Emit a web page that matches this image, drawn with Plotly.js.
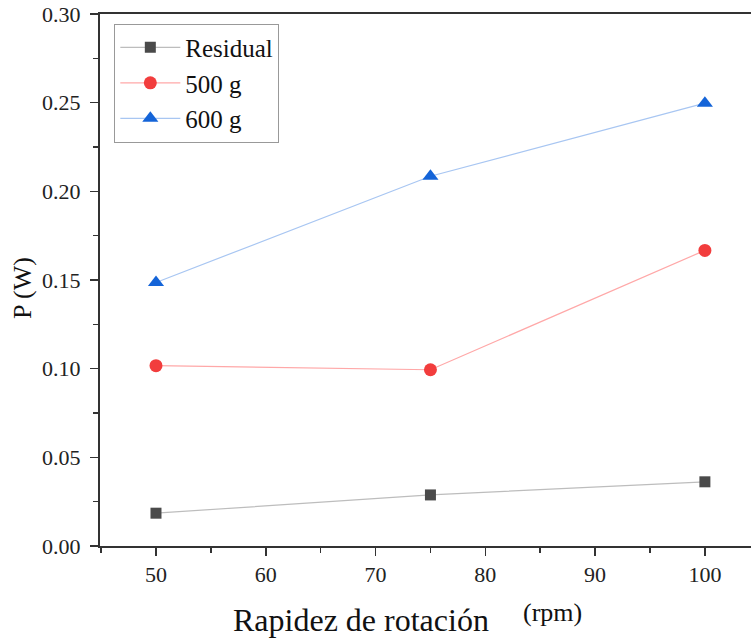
<!DOCTYPE html>
<html>
<head>
<meta charset="utf-8">
<script src="https://cdn.plot.ly/plotly-3.0.1.min.js"></script>
<style>html,body{margin:0;padding:0;background:#fff;}#chart{width:751px;height:638px;}</style>
</head>
<body>
<div id="chart"></div>
<script>
const rpm = [50, 75, 100];
const residual = [0.0185, 0.0288, 0.0362];
const p500 = [0.1017, 0.0994, 0.1667];
const p600 = [0.1486, 0.2085, 0.2497];
const seriesNames = ["Residual", "500 g", "600 g"];
const xTicks = [50, 60, 70, 80, 90, 100];
const yTicks = [0.00, 0.05, 0.10, 0.15, 0.20, 0.25, 0.30];
const yTickLabels = ["0.00", "0.05", "0.10", "0.15", "0.20", "0.25", "0.30"];

const serif = "Liberation Serif, Times New Roman, serif";

const traces = [
  {x: rpm, y: residual, name: seriesNames[0], mode: "lines+markers",
   line: {color: "#bdbdbd", width: 1.2},
   marker: {symbol: "square", size: 11, color: "#4a4a4a"}},
  {x: rpm, y: p500, name: seriesNames[1], mode: "lines+markers",
   line: {color: "#ffa8a8", width: 1.2},
   marker: {symbol: "circle", size: 13, color: "#f23d3d"}},
  {x: rpm, y: p600, name: seriesNames[2], mode: "lines+markers",
   line: {color: "#a8c6f2", width: 1.2},
   marker: {symbol: "triangle-up", size: 14, color: "#1464d8"}}
];

const layout = {
  width: 751, height: 638,
  margin: {l: 100, r: 0, t: 14, b: 92},
  paper_bgcolor: "#fff", plot_bgcolor: "#fff",
  font: {family: serif, color: "#222"},
  showlegend: true,
  legend: {
    x: 0.022, y: 0.982, xanchor: "left", yanchor: "top",
    bgcolor: "#fff", bordercolor: "#999", borderwidth: 1,
    font: {family: serif, size: 25, color: "#111"},
    itemwidth: 60, tracegroupgap: 0
  },
  xaxis: {
    range: [44.9, 104.2],
    tickvals: xTicks, ticktext: xTicks.map(String),
    ticks: "outside", ticklen: 8, tickwidth: 1.5, tickcolor: "#333",
    minor: {dtick: 5, ticks: "outside", ticklen: 5, tickwidth: 1.5, tickcolor: "#333"},
    showline: true, linecolor: "#333", linewidth: 2, mirror: true,
    showgrid: false, zeroline: false,
    tickfont: {family: serif, size: 22, color: "#222"}
  },
  yaxis: {
    range: [0, 0.30],
    tickvals: yTicks, ticktext: yTickLabels,
    ticks: "outside", ticklen: 8, tickwidth: 1.5, tickcolor: "#333",
    ticklabelstandoff: 5,
    minor: {dtick: 0.025, ticks: "outside", ticklen: 5, tickwidth: 1.5, tickcolor: "#333"},
    showline: true, linecolor: "#333", linewidth: 2, mirror: true,
    showgrid: false, zeroline: false,
    tickfont: {family: serif, size: 22, color: "#222"}
  },
  annotations: [
    {text: "Rapidez de rotación", xref: "paper", yref: "paper",
     x: (361 - 100) / 651, y: -(620 - 546) / 532, xanchor: "center", yanchor: "middle",
     showarrow: false, font: {family: serif, size: 32, color: "#111"}},
    {text: "(rpm)", xref: "paper", yref: "paper",
     x: (552 - 100) / 651, y: -(612 - 546) / 532, xanchor: "center", yanchor: "middle",
     showarrow: false, font: {family: serif, size: 26, color: "#111"}},
    {text: "P (W)", xref: "paper", yref: "paper",
     x: -(100 - 22) / 651, y: (546 - 288) / 532, xanchor: "center", yanchor: "middle",
     textangle: -90, showarrow: false, font: {family: serif, size: 26, color: "#111"}}
  ]
};

Plotly.newPlot("chart", traces, layout, {displayModeBar: false, staticPlot: true});
</script>
</body>
</html>
